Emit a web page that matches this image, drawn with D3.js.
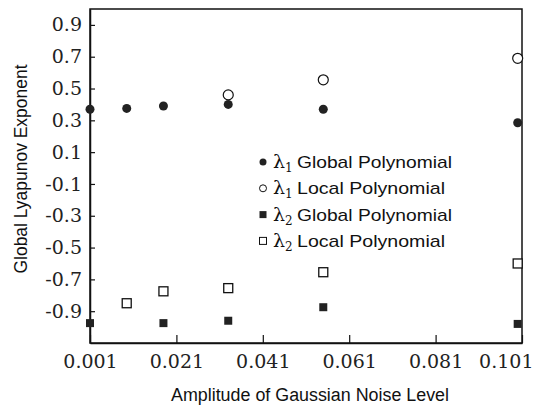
<!DOCTYPE html>
<html>
<head>
<meta charset="utf-8">
<script src="https://cdn.jsdelivr.net/npm/d3@7"></script>
<style>
  body { margin: 0; background: #fff; }
  svg { display: block; }
</style>
</head>
<body>
<div id="chart"></div>
<script>
// set dimensions
var width = 537;
var height = 407;
var margin = {top: 9, right: 15, bottom: 64, left: 90};

// data
var xTicks = [0.001, 0.021, 0.041, 0.061, 0.081, 0.101];
var yTicks = [0.9, 0.7, 0.5, 0.3, 0.1, -0.1, -0.3, -0.5, -0.7, -0.9];

var l1GlobalX = [0.001, 0.0095, 0.018, 0.033, 0.055, 0.1];
var l1GlobalY = [0.37, 0.375, 0.39, 0.40, 0.37, 0.285];

var l1LocalX = [0.033, 0.055, 0.1];
var l1LocalY = [0.46, 0.555, 0.69];

var l2GlobalX = [0.001, 0.018, 0.033, 0.055, 0.1];
var l2GlobalY = [-0.975, -0.975, -0.96, -0.875, -0.98];

var l2LocalX = [0.0095, 0.018, 0.033, 0.055, 0.1];
var l2LocalY = [-0.85, -0.775, -0.755, -0.655, -0.60];

var legendSub = ["1", "1", "2", "2"];
var legendText = ["Global Polynomial", "Local Polynomial", "Global Polynomial", "Local Polynomial"];

var svg = d3.select("#chart")
  .append("svg")
    .attr("width", width)
    .attr("height", height);

var x = d3.scaleLinear().domain([0.001, 0.101]).range([margin.left, width - margin.right]);
var y = d3.scaleLinear().domain([-1.1, 1.0]).range([height - margin.bottom, margin.top]);

var tickFont = "'DejaVu Serif', serif";
var labelFont = "'Liberation Sans', Arial, sans-serif";

// frame
svg.append("rect")
  .attr("x", margin.left)
  .attr("y", margin.top)
  .attr("width", width - margin.left - margin.right)
  .attr("height", height - margin.top - margin.bottom)
  .attr("fill", "none")
  .attr("stroke", "#111")
  .attr("stroke-width", 1.5);

// axes, ticks pointing inward
var xAxis = svg.append("g")
  .attr("transform", "translate(0," + (height - margin.bottom) + ")")
  .call(d3.axisBottom(x).tickValues(xTicks).tickSizeInner(-8).tickSizeOuter(0).tickPadding(12)
    .tickFormat(d3.format(".3f")));

var yAxis = svg.append("g")
  .attr("transform", "translate(" + margin.left + ",0)")
  .call(d3.axisLeft(y).tickValues(yTicks).tickSizeInner(-5).tickSizeOuter(0).tickPadding(8)
    .tickFormat(function(d) { return d3.format(".1f")(d).replace("−", "-"); }));

[xAxis, yAxis].forEach(function(g) {
  g.select(".domain").attr("stroke", "#111").attr("stroke-width", 1.5);
  g.selectAll(".tick line").attr("stroke", "#111").attr("stroke-width", 1.2);
  g.selectAll(".tick text")
    .attr("fill", "#222")
    .style("font-family", tickFont)
    .style("font-size", "19px");
});
xAxis.selectAll(".tick text").attr("dy", "0.71em");
// last label is pulled inside the window, as in the original
xAxis.selectAll(".tick text")
  .filter(function(d) { return d === 0.101; })
  .attr("text-anchor", "end")
  .attr("x", 11);

// axis titles
svg.append("text")
  .attr("x", 310)
  .attr("y", 401)
  .attr("text-anchor", "middle")
  .attr("textLength", 278)
  .attr("lengthAdjust", "spacingAndGlyphs")
  .style("font-family", labelFont)
  .style("font-size", "18px")
  .attr("fill", "#111")
  .text("Amplitude of Gaussian Noise Level");

svg.append("text")
  .attr("transform", "translate(27,169) rotate(-90)")
  .attr("text-anchor", "middle")
  .attr("textLength", 209)
  .attr("lengthAdjust", "spacingAndGlyphs")
  .style("font-family", labelFont)
  .style("font-size", "18px")
  .attr("fill", "#111")
  .text("Global Lyapunov Exponent");

// markers
function pts(xs, ys) {
  return xs.map(function(v, i) { return {x: v, y: ys[i]}; });
}

svg.selectAll("l1local")
  .data(pts(l1LocalX, l1LocalY))
  .enter()
  .append("circle")
    .attr("cx", function(d) { return x(d.x); })
    .attr("cy", function(d) { return y(d.y); })
    .attr("r", 5)
    .attr("fill", "#fff")
    .attr("stroke", "#111")
    .attr("stroke-width", 1.2);

svg.selectAll("l1global")
  .data(pts(l1GlobalX, l1GlobalY))
  .enter()
  .append("circle")
    .attr("cx", function(d) { return x(d.x); })
    .attr("cy", function(d) { return y(d.y); })
    .attr("r", 4.5)
    .attr("fill", "#222");

svg.selectAll("l2local")
  .data(pts(l2LocalX, l2LocalY))
  .enter()
  .append("rect")
    .attr("x", function(d) { return x(d.x) - 4.5; })
    .attr("y", function(d) { return y(d.y) - 4.5; })
    .attr("width", 9)
    .attr("height", 9)
    .attr("fill", "#fff")
    .attr("stroke", "#111")
    .attr("stroke-width", 1.3);

svg.selectAll("l2global")
  .data(pts(l2GlobalX, l2GlobalY))
  .enter()
  .append("rect")
    .attr("x", function(d) { return x(d.x) - 4; })
    .attr("y", function(d) { return y(d.y) - 4; })
    .attr("width", 8)
    .attr("height", 8)
    .attr("fill", "#222");

// legend
var legend = svg.append("g").attr("transform", "translate(263,162)");
var rowH = 26.3;

legend.append("circle").attr("cx", 0).attr("cy", 0).attr("r", 3.5).attr("fill", "#222");
legend.append("circle").attr("cx", 0).attr("cy", rowH).attr("r", 3.5)
  .attr("fill", "#fff").attr("stroke", "#111").attr("stroke-width", 1);
legend.append("rect").attr("x", -3.5).attr("y", 2 * rowH - 3.5).attr("width", 7).attr("height", 7)
  .attr("fill", "#222");
legend.append("rect").attr("x", -3.5).attr("y", 3 * rowH - 3.5).attr("width", 7).attr("height", 7)
  .attr("fill", "#fff").attr("stroke", "#111").attr("stroke-width", 1);

legendText.forEach(function(t, i) {
  var lam = legend.append("text")
    .attr("x", 10)
    .attr("y", i * rowH + 6)
    .style("font-family", tickFont)
    .style("font-size", "19px")
    .attr("fill", "#111")
    .text("λ");
  lam.append("tspan")
    .attr("dy", 4)
    .style("font-size", "12px")
    .text(legendSub[i]);

  legend.append("text")
    .attr("x", 34)
    .attr("y", i * rowH + 6)
    .attr("textLength", t === "Global Polynomial" ? 155 : 148)
    .attr("lengthAdjust", "spacingAndGlyphs")
    .style("font-family", labelFont)
    .style("font-size", "17px")
    .attr("fill", "#111")
    .text(t);
});
</script>
</body>
</html>
